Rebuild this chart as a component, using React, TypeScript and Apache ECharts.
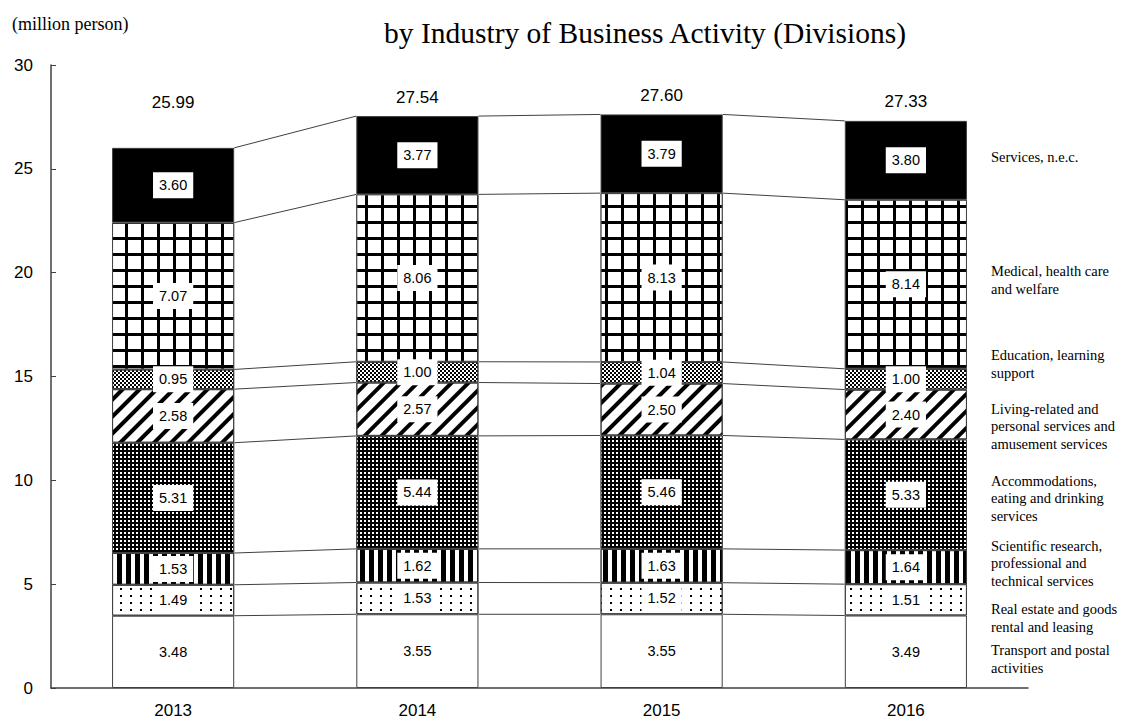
import React, { useEffect, useRef } from "react";
import * as echarts from "echarts";

const categories = ["2013", "2014", "2015", "2016"];
const transport = [3.48, 3.55, 3.55, 3.49];
const realEstate = [1.49, 1.53, 1.52, 1.51];
const scientific = [1.53, 1.62, 1.63, 1.64];
const accommodations = [5.31, 5.44, 5.46, 5.33];
const living = [2.58, 2.57, 2.5, 2.4];
const education = [0.95, 1.0, 1.04, 1.0];
const medical = [7.07, 8.06, 8.13, 8.14];
const servicesNec = [3.6, 3.77, 3.79, 3.8];
const totals = [25.99, 27.54, 27.6, 27.33];

const seriesNames = [
  "Transport and postal activities",
  "Real estate and goods rental and leasing",
  "Scientific research, professional and technical services",
  "Accommodations, eating and drinking services",
  "Living-related and personal services and amusement services",
  "Education, learning support",
  "Medical, health care and welfare",
  "Services, n.e.c.",
];
const seriesValues = [transport, realEstate, scientific, accommodations, living, education, medical, servicesNec];

const rightLabels = [
  { text: "Services, n.e.c.", y: 157 },
  { text: "Medical, health care\nand welfare", y: 280 },
  { text: "Education, learning\nsupport", y: 364 },
  { text: "Living-related and\npersonal services and\namusement services", y: 426 },
  { text: "Accommodations,\neating and drinking\nservices", y: 498 },
  { text: "Scientific research,\nprofessional and\ntechnical services", y: 563 },
  { text: "Real estate and goods\nrental and leasing", y: 618 },
  { text: "Transport and postal\nactivities", y: 659 },
];

const styles: any[] = [
  { color: "#fff" },
  { color: "#fff", decal: { symbol: "rect", symbolSize: 1, color: "#000", backgroundColor: "#fff", dashArrayX: [2, 8], dashArrayY: [2, 5] } },
  { color: "#fff", decal: { symbol: "rect", symbolSize: 1, color: "#000", backgroundColor: "#fff", dashArrayX: [5, 4], dashArrayY: [1, 0] } },
  { color: "#000", decal: { symbol: "rect", symbolSize: 1, color: "#fff", backgroundColor: "#000", dashArrayX: [2, 2], dashArrayY: [2, 2] } },
  { color: "#fff", decal: { symbol: "rect", symbolSize: 1, color: "#000", backgroundColor: "#fff", dashArrayX: [4, 8], dashArrayY: [1, 0], rotation: Math.PI / 4 } },
  { color: "#fff", decal: { symbol: "rect", symbolSize: 1, color: "#000", backgroundColor: "#fff", dashArrayX: [[2, 2], [0, 2, 2, 0]], dashArrayY: [2, 0] } },
  { color: "#000", decal: { symbol: "rect", symbolSize: 1, color: "#fff", backgroundColor: "#000", dashArrayX: [13, 3], dashArrayY: [13, 3] } },
  { color: "#000" },
];

export default function App() {
  const ref = useRef<HTMLDivElement>(null);
  useEffect(() => {
    document.body.style.margin = "0";
    const chart = echarts.init(ref.current!, null, { renderer: "svg" });

    const cum: number[][] = categories.map((_, i) => {
      const arr: number[] = [];
      let s = 0;
      seriesValues.forEach((v) => {
        s += v[i];
        arr.push(s);
      });
      return arr;
    });

    const barSeries = seriesValues.map((vals, k) => ({
      name: seriesNames[k],
      type: "bar",
      stack: "total",
      barWidth: "50%",
      data: vals,
      itemStyle: { ...styles[k], borderColor: "#404040", borderWidth: 1 },
      label: {
        show: true,
        position: "inside",
        color: "#000",
        backgroundColor: "#fff",
        padding: [6, 6, 5, 6],
        fontSize: 14.5,
        fontFamily: "Liberation Sans",
        formatter: (p: any) => Number(p.value).toFixed(2),
      },
      emphasis: { disabled: true },
    }));

    const option: any = {
      animation: false,
      grid: { left: 51, right: 93, top: 65, bottom: 34 },
      xAxis: {
        type: "category",
        data: categories,
        axisLine: { lineStyle: { color: "#404040", width: 1.5 } },
        axisTick: { inside: true, length: 5, lineStyle: { color: "#404040" } },
        axisLabel: { color: "#000", fontSize: 17, fontFamily: "Liberation Sans", margin: 14 },
      },
      yAxis: {
        type: "value",
        min: 0,
        max: 30,
        interval: 5,
        axisLine: { show: true, lineStyle: { color: "#404040", width: 1.5 } },
        axisTick: { show: true, inside: true, length: 5, lineStyle: { color: "#404040" } },
        splitLine: { show: false },
        axisLabel: { color: "#000", fontSize: 17, fontFamily: "Liberation Sans", margin: 18 },
      },
      graphic: [
        {
          type: "text",
          x: 645,
          y: 33,
          style: {
            text: "by Industry of Business Activity (Divisions)",
            font: "29.5px 'Liberation Serif'",
            fill: "#000",
            align: "center",
            verticalAlign: "middle",
          },
        },
        {
          type: "text",
          x: 12,
          y: 24,
          style: { text: "(million person)", font: "18px 'Liberation Serif'", fill: "#000", verticalAlign: "middle" },
        },
        ...rightLabels.map((l) => ({
          type: "text",
          x: 991,
          y: l.y,
          style: { text: l.text, font: "14.5px 'Liberation Serif'", lineHeight: 17.5, fill: "#000", verticalAlign: "middle" },
        })),
      ],
      series: [
        ...barSeries,
        {
          type: "custom",
          name: "connectors",
          data: categories.slice(0, categories.length - 1).map((_, i) => [i]),
          encode: { x: 0 },
          z: 1,
          silent: true,
          renderItem: (params: any, api: any) => {
            const i = params.dataIndex;
            const bw = api.size([1, 0])[0] * 0.5;
            const children = cum[i].map((v, k) => {
              const p1 = api.coord([i, v]);
              const p2 = api.coord([i + 1, cum[i + 1][k]]);
              return {
                type: "line",
                shape: { x1: p1[0] + bw / 2, y1: p1[1], x2: p2[0] - bw / 2, y2: p2[1] },
                style: { stroke: "#404040", lineWidth: 1 },
              };
            });
            return { type: "group", children };
          },
        },
        {
          type: "custom",
          name: "totals",
          data: totals.map((t, i) => [i, t]),
          encode: { x: 0, y: 1 },
          silent: true,
          renderItem: (params: any, api: any) => {
            const i = params.dataIndex;
            const p = api.coord([i, api.value(1)]);
            const cap = api.coord([i, 28.2]);
            const y = Math.min(p[1] - 19, cap[1]);
            return {
              type: "text",
              x: p[0],
              y,
              style: {
                text: Number(api.value(1)).toFixed(2),
                font: "17px 'Liberation Sans'",
                fill: "#000",
                align: "center",
                verticalAlign: "middle",
              },
            };
          },
        },
      ],
    };
    chart.setOption(option);
    return () => chart.dispose();
  }, []);
  return <div ref={ref} style={{ width: 1121, height: 722 }} />;
}
